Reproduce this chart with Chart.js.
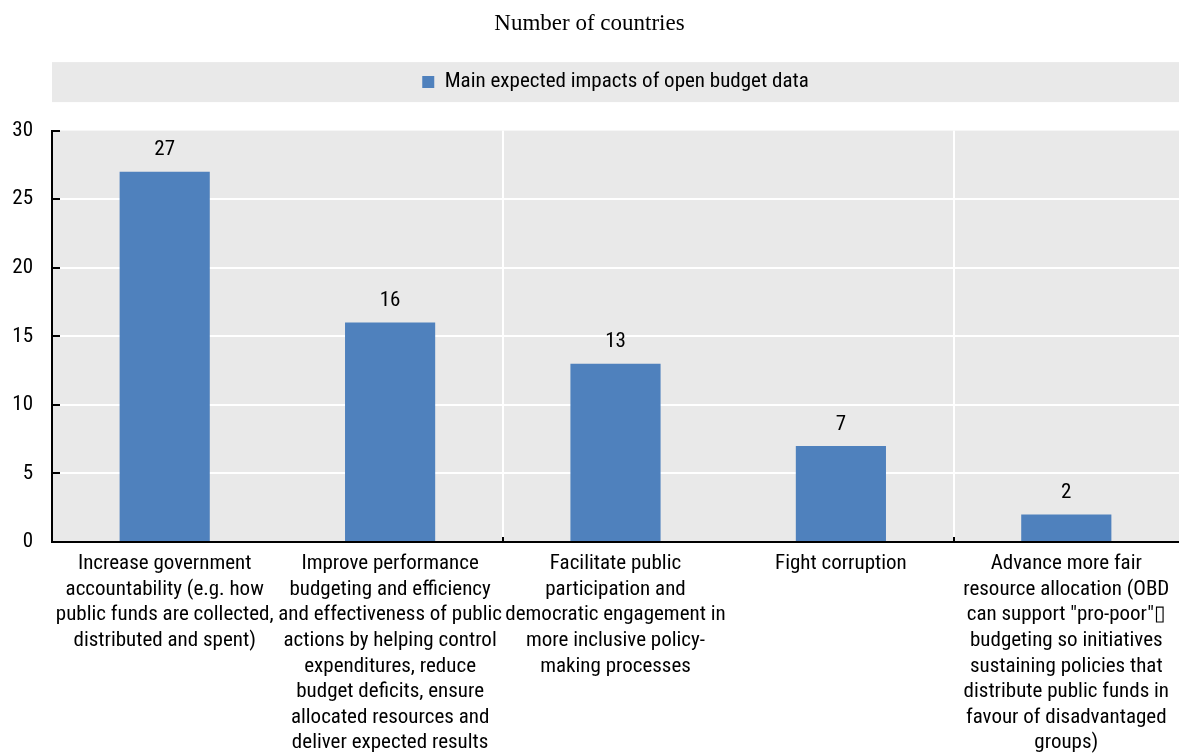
<!DOCTYPE html>
<html>
<head>
<meta charset="utf-8">
<title>Main expected impacts of open budget data</title>
<script src="https://cdn.jsdelivr.net/npm/chart.js@4.4.1/dist/chart.umd.min.js"></script>
<style>
  html, body { margin: 0; padding: 0; background: #ffffff; }
  #wrap { width: 1179px; height: 755px; }
</style>
</head>
<body>
<div id="wrap"><canvas id="chart" width="1179" height="755"></canvas></div>
<script>
// Survey responses: main expected impacts of open budget data (number of countries)
const categories = [
  ["Increase government", "accountability (e.g. how", "public funds are collected,", "distributed and spent)"],
  ["Improve performance", "budgeting and efficiency", "and effectiveness of public", "actions by helping control", "expenditures, reduce", "budget deficits, ensure", "allocated resources and", "deliver expected results"],
  ["Facilitate public", "participation and", "democratic engagement in", "more inclusive policy-", "making processes"],
  ["Fight corruption"],
  ["Advance more fair", "resource allocation (OBD", "can support \"pro-poor\"\u25AF", "budgeting so initiatives", "sustaining policies that", "distribute public funds in", "favour of disadvantaged", "groups)"]
];
const seriesName = "Main expected impacts of open budget data";
const countries = [27, 16, 13, 7, 2];
const yTicks = [0, 5, 10, 15, 20, 25, 30];

const NARROW = "'Liberation Sans Narrow', 'Arial Narrow', 'Roboto Condensed', 'Liberation Sans', sans-serif";
const SERIF = "'Liberation Serif', 'Times New Roman', serif";
const PANEL = '#e9e9e9';
const BAR = '#4f81bd';

// Grey panels behind the plot area and the legend strip; legend centred over the plot
const panels = {
  id: 'panels',
  afterLayout(chart) {
    const a = chart.chartArea;
    if (chart.legend) {
      chart.legend.left = a.left;
      chart.legend.right = a.right;
    }
  },
  beforeDraw(chart) {
    const { ctx, chartArea: a, legend } = chart;
    ctx.save();
    ctx.fillStyle = PANEL;
    ctx.fillRect(a.left, a.top, a.right - a.left, a.bottom - a.top);
    if (legend && legend.legendHitBoxes && legend.legendHitBoxes.length) {
      const hb = legend.legendHitBoxes[0];
      const cy = hb.top + hb.height / 2;
      ctx.fillRect(a.left, cy - 20, a.right - a.left, 40);
    }
    ctx.restore();
  }
};

// Short inward tick marks on both axes
const innerTicks = {
  id: 'innerTicks',
  afterDraw(chart) {
    const { ctx, chartArea: a, scales } = chart;
    ctx.save();
    ctx.strokeStyle = '#000';
    ctx.lineWidth = 2;
    ctx.beginPath();
    scales.y.ticks.forEach(t => {
      const y = Math.round(scales.y.getPixelForValue(t.value));
      ctx.moveTo(a.left, y);
      ctx.lineTo(a.left + 8, y);
    });
    [2, 4].forEach(i => {
      const x = Math.round((scales.x.getPixelForValue(i - 1) + scales.x.getPixelForValue(i)) / 2);
      ctx.moveTo(x, a.bottom);
      ctx.lineTo(x, a.bottom - 5);
    });
    ctx.stroke();
    ctx.restore();
  }
};

// Value labels above each bar
const valueLabels = {
  id: 'valueLabels',
  afterDatasetsDraw(chart) {
    const { ctx } = chart;
    const meta = chart.getDatasetMeta(0);
    ctx.save();
    ctx.font = '21px ' + NARROW;
    ctx.fillStyle = '#000';
    ctx.textAlign = 'center';
    ctx.textBaseline = 'bottom';
    meta.data.forEach((bar, i) => {
      ctx.fillText(String(countries[i]), bar.x, bar.y - 11);
    });
    ctx.restore();
  }
};

new Chart(document.getElementById('chart'), {
  type: 'bar',
  data: {
    labels: categories,
    datasets: [{
      label: seriesName,
      data: countries,
      backgroundColor: BAR,
      borderWidth: 0,
      categoryPercentage: 1.0,
      barPercentage: 0.4
    }]
  },
  options: {
    responsive: false,
    animation: false,
    layout: { padding: { top: 0, left: 0, right: 0, bottom: 0 } },
    plugins: {
      title: {
        display: true,
        text: 'Number of countries',
        color: '#000',
        font: { family: SERIF, size: 23, weight: 'normal', lineHeight: 1.2 },
        padding: { top: 10, bottom: 0 }
      },
      // empty spacer between the legend strip and the plot
      subtitle: {
        display: true,
        text: '',
        weight: 500,
        font: { size: 10, lineHeight: 1 },
        padding: { top: 0, bottom: 18 }
      },
      legend: {
        display: true,
        position: 'top',
        labels: {
          color: '#000',
          font: { family: NARROW, size: 21 },
          boxWidth: 12,
          boxHeight: 12,
          padding: 34
        }
      },
      tooltip: { enabled: false }
    },
    scales: {
      x: {
        offset: true,
        afterFit: s => { s.height = 213; },
        grid: {
          offset: true,
          drawTicks: false,
          lineWidth: 2,
          color: c => (c.index === 2 || c.index === 4) ? '#ffffff' : 'rgba(0,0,0,0)'
        },
        border: { display: true, color: '#000', width: 2 },
        ticks: {
          color: '#000',
          font: { family: NARROW, size: 21, lineHeight: 1.22 },
          maxRotation: 0,
          minRotation: 0,
          autoSkip: false,
          padding: 9
        }
      },
      y: {
        min: 0,
        max: 30,
        afterFit: s => { s.width = 52; },
        afterBuildTicks: scale => { scale.ticks = yTicks.map(v => ({ value: v })); },
        grid: {
          drawTicks: false,
          lineWidth: 2,
          color: c => (c.tick && (c.tick.value === 0 || c.tick.value === 30)) ? 'rgba(0,0,0,0)' : '#ffffff'
        },
        border: { display: true, color: '#000', width: 2 },
        ticks: {
          color: '#000',
          font: { family: NARROW, size: 21 },
          padding: 19
        }
      }
    }
  },
  plugins: [panels, innerTicks, valueLabels]
});
</script>
</body>
</html>
